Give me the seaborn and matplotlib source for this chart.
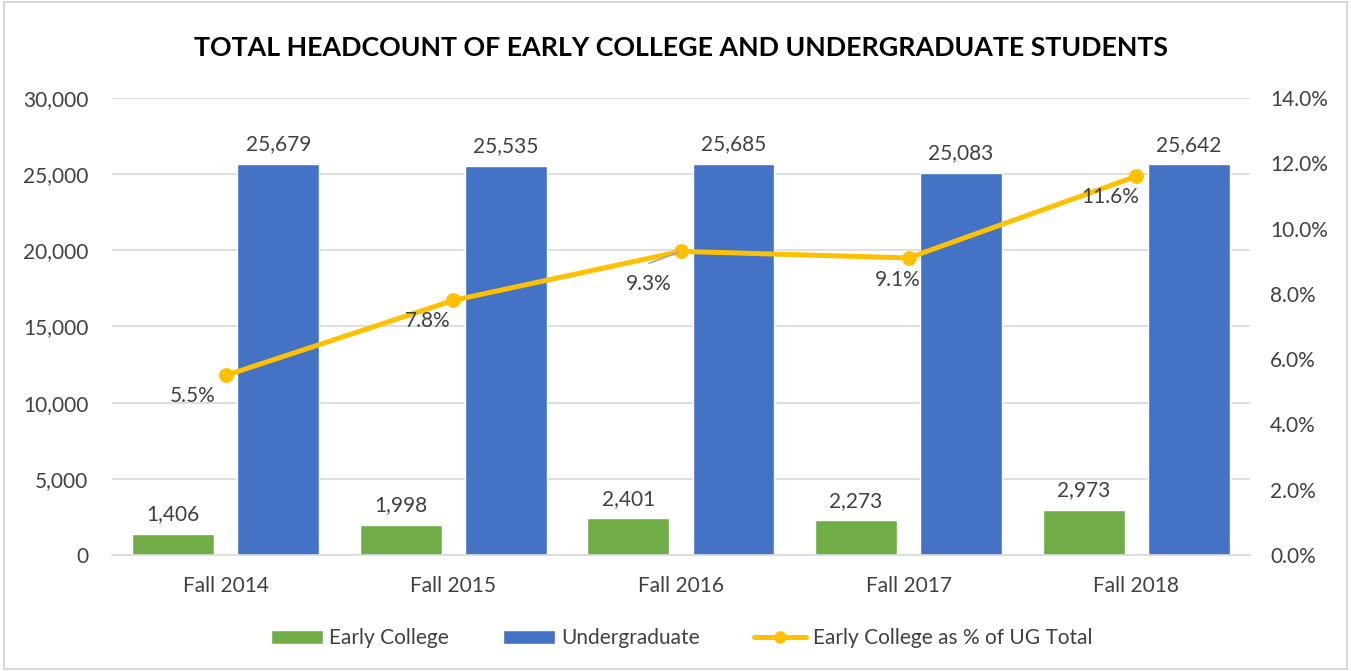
import matplotlib
matplotlib.use("Agg")
import matplotlib.pyplot as plt
import matplotlib.ticker as mticker
from matplotlib.patches import Patch, Rectangle
from matplotlib.lines import Line2D
import seaborn as sns
import pandas as pd
import numpy as np

categories = ["Fall 2014", "Fall 2015", "Fall 2016", "Fall 2017", "Fall 2018"]
early_college = [1406, 1998, 2401, 2273, 2973]
undergraduate = [25679, 25535, 25685, 25083, 25642]
pct_of_ug = [5.5, 7.8, 9.3, 9.1, 11.6]
series_names = ["Early College", "Undergraduate"]
line_name = "Early College as % of UG Total"
title = "TOTAL HEADCOUNT OF EARLY COLLEGE AND UNDERGRADUATE STUDENTS"

# style (not data)
GREEN, BLUE, YELLOW = "#70AD47", "#4472C4", "#FFC000"
TXT = "#404040"
GRID = "#D9D9D9"
FS = 15
pct_label_offsets = [(-23.8, -15.1), (-18.7, -15.1), (-23, -23.8), (-7.9, -15.8), (-18.7, -15.1)]

sns.set_theme(style="white")
plt.rcParams["font.family"] = ["Lato", "DejaVu Sans"]

df = pd.DataFrame({
    "Term": categories * 2,
    "Series": [series_names[0]] * 5 + [series_names[1]] * 5,
    "Count": early_college + undergraduate,
})

fig = plt.figure(figsize=(13.51, 6.71), dpi=100)
ax = fig.add_axes([0.0829, 0.1729, 0.8423, 0.6811])

sns.barplot(data=df, x="Term", y="Count", hue="Series", order=categories,
            hue_order=series_names, palette=[GREEN, BLUE], width=0.923, gap=0.22,
            saturation=1, ax=ax, legend=False, errorbar=None)

ax.set_ylim(0, 30000)
ax.set_yticks(np.arange(0, 30001, 5000))
ax.yaxis.set_major_formatter(mticker.FuncFormatter(lambda v, p: f"{int(v):,}"))
ax.grid(axis="y", color=GRID, linewidth=1.2)
ax.set_axisbelow(True)
for s in ["top", "left", "right"]:
    ax.spines[s].set_visible(False)
ax.spines["bottom"].set_color(GRID)
ax.spines["bottom"].set_linewidth(1.2)
ax.set_xlabel("")
ax.set_ylabel("")
ax.tick_params(axis="both", colors=TXT, labelsize=FS, length=0)
ax.tick_params(axis="x", pad=15)
ax.tick_params(axis="y", pad=17)

for cont in ax.containers:
    ax.bar_label(cont, labels=[f"{int(v):,}" for v in cont.datavalues],
                 padding=7, color=TXT, fontsize=FS)

ax2 = ax.twinx()
ldf = pd.DataFrame({"Term": categories, "Pct": pct_of_ug})
sns.pointplot(data=ldf, x="Term", y="Pct", order=categories, color=YELLOW,
              markers="o", markersize=8, linewidth=3.6, ax=ax2, errorbar=None)
ax2.set_ylim(0, 14)
ax2.set_yticks(np.arange(0, 14.01, 2))
ax2.yaxis.set_major_formatter(mticker.FuncFormatter(lambda v, p: f"{v:.1f}%"))
ax2.tick_params(axis="y", colors=TXT, labelsize=FS, length=0, pad=14.5)
for s in ["top", "left", "right", "bottom"]:
    ax2.spines[s].set_visible(False)
ax2.set_ylabel("")
ax2.set_xlabel("")
ax.set_xlim(-0.5, 4.5)
ax2.set_xlim(-0.5, 4.5)

for i, (v, off) in enumerate(zip(pct_of_ug, pct_label_offsets)):
    ax2.annotate(f"{v:.1f}%", xy=(i, v), xytext=off, textcoords="offset points",
                 ha="center", va="center", color=TXT, fontsize=FS)
# leader line for 9.3%
ax2.annotate("", xy=(2, pct_of_ug[2]), xytext=(-23, -8.6), textcoords="offset points",
             arrowprops=dict(arrowstyle="-", color="#A6A6A6", lw=1.2,
                             shrinkA=0, shrinkB=2))

fig.text(0.504, 0.928, title, ha="center", va="center", fontsize=19.3,
         fontweight="bold", color="black")

handles = [Patch(facecolor=GREEN), Patch(facecolor=BLUE),
           Line2D([0], [0], color=YELLOW, lw=3.6, marker="o", markersize=8)]
fig.legend(handles, series_names + [line_name], loc="center",
           bbox_to_anchor=(0.5045, 0.049), ncol=3, frameon=False,
           fontsize=FS, labelcolor=TXT, handlelength=2.5, handleheight=0.62,
           columnspacing=2.6, handletextpad=0.3)

fig.add_artist(Rectangle((0.003, 0.003), 0.994, 0.994, transform=fig.transFigure,
                         fill=False, edgecolor="#D9D9D9", linewidth=1.5))

fig.savefig("out.png", dpi=100, facecolor="white")
